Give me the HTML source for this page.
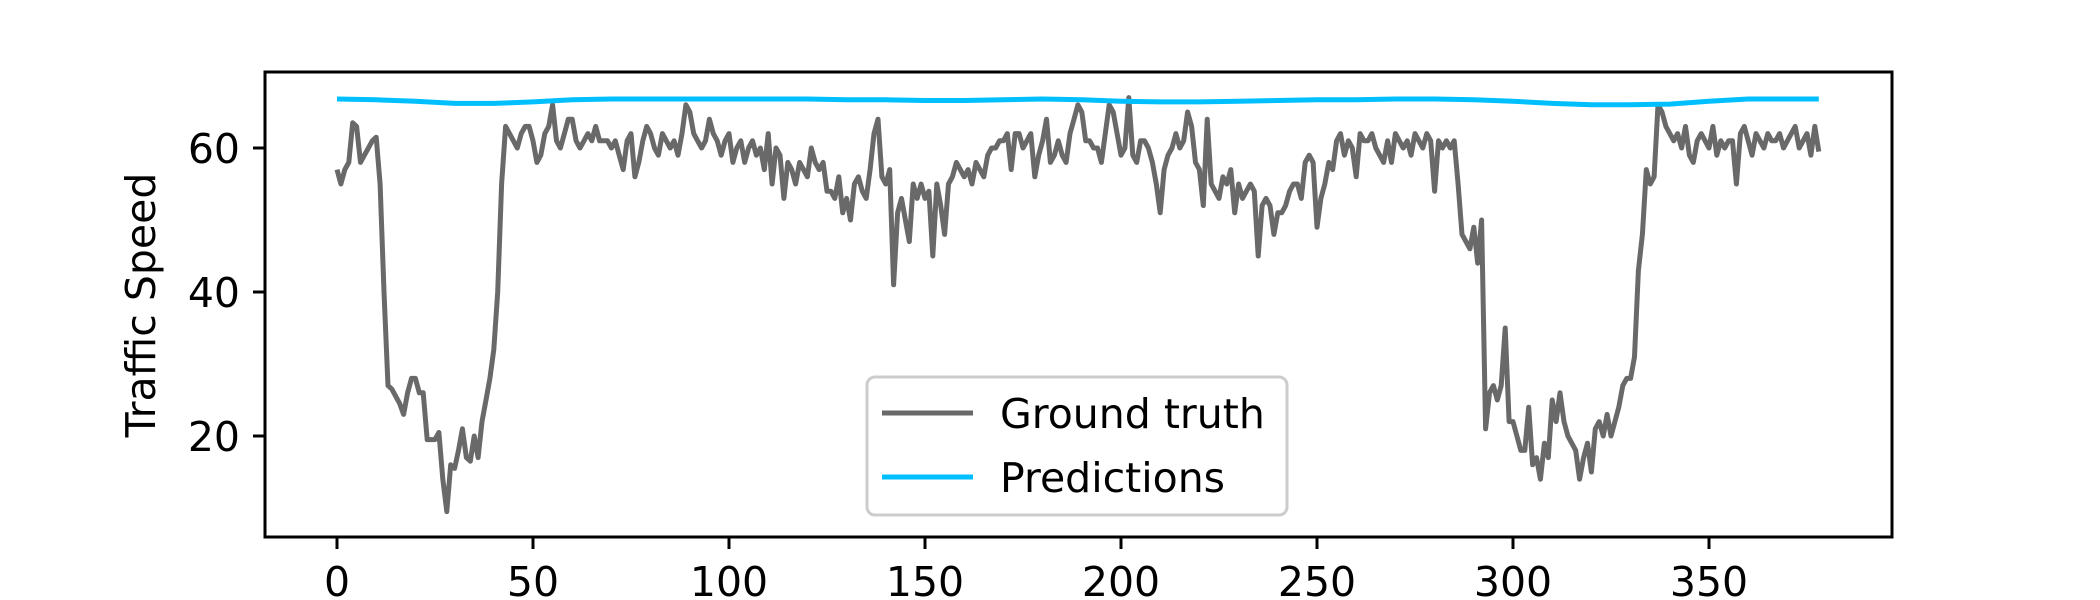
<!DOCTYPE html>
<html><head><meta charset="utf-8">
<style>
html,body{margin:0;padding:0;background:#fff;}
svg{display:block;font-family:"DejaVu Sans","Liberation Sans",sans-serif;}
</style></head>
<body>
<svg id="chart" width="2100" height="600" viewBox="0 0 2100 600" xmlns="http://www.w3.org/2000/svg">
  <rect x="0" y="0" width="2100" height="600" fill="#fff"/>
  <g id="plot"></g>
  <rect x="265" y="72" width="1627" height="465" fill="none" stroke="#000" stroke-width="3"/>
  <g id="xticks"></g>
  <g id="yticks"></g>
  <text transform="translate(155,305) rotate(-90)" text-anchor="middle" font-size="41" fill="#000">Traffic Speed</text>
  <g>
    <rect x="867" y="377" width="420" height="138" rx="8" fill="#fff" fill-opacity="0.8" stroke="#cccccc" stroke-width="3"/>
    <line x1="882" y1="413" x2="973" y2="413" stroke="#696969" stroke-width="5"/>
    <text x="1000" y="428" font-size="41" fill="#000">Ground truth</text>
    <line x1="882" y1="477" x2="973" y2="477" stroke="#00bfff" stroke-width="5"/>
    <text x="1000" y="492" font-size="41" fill="#000">Predictions</text>
  </g>
</svg>
<script>
const xTicks = [0, 50, 100, 150, 200, 250, 300, 350];
const yTicks = [20, 40, 60];
const groundTruth = [
57,55,57,58,63.5,63,58,59,60,61,
61.5,55,40,27,26.5,25.5,24.5,23,26,28,
28,26,26,19.5,19.5,19.5,20.5,14,9.5,16,
15.5,18,21,17,16.5,20,17,22,25,28,
32,40,55,63,62,61,60,62,63,63,
61,58,59,62,63,66,61,60,62,64,
64,61,60,61,62,61,63,61,61,61,
60,61,59,57,61,62,56,58,61,63,
62,60,59,62,61,60,61,59,62,66,
65,62,61,60,61,64,62,61,59,61,
62,58,60,61,58,60,61,59,60,57,
62,55,60,59,53,58,57,55,58,57,
56,60,58,57,58,54,54,53,56,51,
53,50,55,56,54,53,57,62,64,56,
55,57,41,51,53,50,47,55,53,55,
53,54,45,55,52,48,55,56,58,57,
56,57,55,58,57,56,59,60,60,61,
61,62,57,62,62,60,61,62,56,59,
61,64,58,59,61,59,58,62,64,66,
65,61,61,60,60,58,62,66,65,62,
59,60,67,59,58,61,61,60,58,55,
51,57,59,60,62,60,61,65,63,58,
57,52,64,55,54,53,56,55,57,51,
55,53,54,55,54,45,52,53,52,48,
51,51,52,54,55,55,53,58,59,58,
49,53,55,58,57,61,62,59,61,60,
56,62,61,61,62,60,59,58,61,58,
62,61,60,61,59,62,61,60,62,61,
54,61,60,61,60,61,55,48,47,46,
49,44,50,21,26,27,25,27,35,22,
22,20,18,18,24,16,17,14,19,17,
25,22,26,22,20,19,18,14,17,19,
15,21,22,20,23,20,22,24,27,28,
28,31,43,48,57,55,56,66,65,63,
62,61,62,60,63,59,58,61,62,61,
60,63,59,61,60,61,61,55,62,63,
61,59,62,61,60,62,61,61,62,60,
61,62,63,60,61,62,59,63,59.5
];
const predIndex = [0,10,20,30,40,50,60,70,80,90,100,110,120,130,140,150,160,170,180,190,200,210,220,230,240,250,260,270,280,290,300,310,320,330,340,350,360,370,378];
const predValues = [66.8,66.7,66.5,66.2,66.2,66.4,66.7,66.8,66.8,66.8,66.8,66.8,66.8,66.7,66.7,66.6,66.6,66.7,66.8,66.7,66.5,66.4,66.4,66.5,66.6,66.7,66.7,66.8,66.8,66.7,66.5,66.2,66.0,66.0,66.1,66.5,66.8,66.8,66.8];

const NS = 'http://www.w3.org/2000/svg';
function xs(v){ return 337 + v * 3.92; }
function ys(v){ return 148 + (60 - v) * 7.2; }

const plot = document.getElementById('plot');
let d = groundTruth.map((v,i)=> (i?'L':'M') + xs(i).toFixed(1) + ',' + ys(v).toFixed(1)).join(' ');
const gt = document.createElementNS(NS,'path');
gt.setAttribute('d', d);
gt.setAttribute('fill','none');
gt.setAttribute('stroke','#696969');
gt.setAttribute('stroke-width','5');
gt.setAttribute('stroke-linejoin','round');


plot.appendChild(gt);

let d2 = predValues.map((v,i)=> (i?'L':'M') + xs(predIndex[i]).toFixed(1) + ',' + ys(v).toFixed(1)).join(' ');
const pr = document.createElementNS(NS,'path');
pr.setAttribute('d', d2);
pr.setAttribute('fill','none');
pr.setAttribute('stroke','#00bfff');
pr.setAttribute('stroke-width','5');
pr.setAttribute('stroke-linejoin','round');


plot.appendChild(pr);

const xg = document.getElementById('xticks');
xTicks.forEach(t=>{
  const l = document.createElementNS(NS,'line');
  l.setAttribute('x1', xs(t)); l.setAttribute('x2', xs(t));
  l.setAttribute('y1', 537); l.setAttribute('y2', 549);
  l.setAttribute('stroke','#000'); l.setAttribute('stroke-width','3');
  
  
  xg.appendChild(l);
  const tx = document.createElementNS(NS,'text');
  tx.setAttribute('x', xs(t)); tx.setAttribute('y', 596);
  tx.setAttribute('text-anchor','middle'); tx.setAttribute('font-size','41');
  tx.textContent = t;
  
  
  xg.appendChild(tx);
});
const yg = document.getElementById('yticks');
yTicks.forEach(t=>{
  const l = document.createElementNS(NS,'line');
  l.setAttribute('x1', 253); l.setAttribute('x2', 265);
  l.setAttribute('y1', ys(t)); l.setAttribute('y2', ys(t));
  l.setAttribute('stroke','#000'); l.setAttribute('stroke-width','3');
  
  
  yg.appendChild(l);
  const tx = document.createElementNS(NS,'text');
  tx.setAttribute('x', 240); tx.setAttribute('y', ys(t) + 15);
  tx.setAttribute('text-anchor','end'); tx.setAttribute('font-size','41');
  tx.textContent = t;
  
  
  yg.appendChild(tx);
});
</script>
</body></html>
